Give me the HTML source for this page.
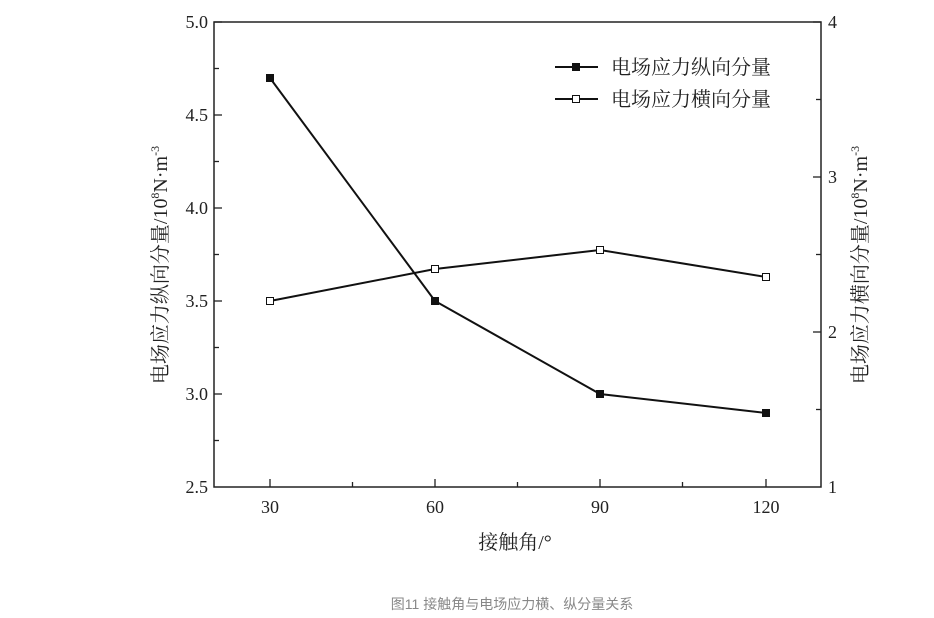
<!DOCTYPE html>
<html><head><meta charset="utf-8"><style>
body{margin:0;background:#fff;}
svg{display:block;font-family:"Liberation Serif","Noto Serif CJK SC",serif;}
</style></head><body>
<svg width="934" height="618" viewBox="0 0 934 618">
<rect x="0" y="0" width="934" height="618" fill="#fff"/>
<rect x="214" y="22" width="607" height="465" fill="none" stroke="#222" stroke-width="1.5"/>
<g stroke="#222" stroke-width="1.3">
<line x1="214" y1="22" x2="222" y2="22"/><line x1="214" y1="68.5" x2="219" y2="68.5"/>
<line x1="214" y1="115" x2="222" y2="115"/><line x1="214" y1="161.5" x2="219" y2="161.5"/>
<line x1="214" y1="208" x2="222" y2="208"/><line x1="214" y1="254.5" x2="219" y2="254.5"/>
<line x1="214" y1="301" x2="222" y2="301"/><line x1="214" y1="347.5" x2="219" y2="347.5"/>
<line x1="214" y1="394" x2="222" y2="394"/><line x1="214" y1="440.5" x2="219" y2="440.5"/>
<line x1="821" y1="22" x2="813" y2="22"/><line x1="821" y1="99.5" x2="816" y2="99.5"/>
<line x1="821" y1="177" x2="813" y2="177"/><line x1="821" y1="254.5" x2="816" y2="254.5"/>
<line x1="821" y1="332" x2="813" y2="332"/><line x1="821" y1="409.5" x2="816" y2="409.5"/>
<line x1="270" y1="487" x2="270" y2="479"/><line x1="352.5" y1="487" x2="352.5" y2="482"/>
<line x1="435" y1="487" x2="435" y2="479"/><line x1="517.5" y1="487" x2="517.5" y2="482"/>
<line x1="600" y1="487" x2="600" y2="479"/><line x1="682.5" y1="487" x2="682.5" y2="482"/>
<line x1="766" y1="487" x2="766" y2="479"/>
</g>
<g font-size="18" fill="#222" text-anchor="end">
<text x="208" y="28">5.0</text><text x="208" y="121">4.5</text><text x="208" y="214">4.0</text>
<text x="208" y="307">3.5</text><text x="208" y="400">3.0</text><text x="208" y="493">2.5</text>
</g>
<g font-size="18" fill="#222">
<text x="828" y="28">4</text><text x="828" y="183">3</text><text x="828" y="338">2</text><text x="828" y="493">1</text>
</g>
<g font-size="18" fill="#222" text-anchor="middle">
<text x="270" y="513">30</text><text x="435" y="513">60</text><text x="600" y="513">90</text><text x="766" y="513">120</text>
<text x="515" y="549" font-size="20">接触角/°</text>
</g>
<text transform="translate(167,265) rotate(-90)" font-size="20" fill="#222" text-anchor="middle">电场应力纵向分量/10<tspan font-size="12" dy="-8">8</tspan><tspan dy="8">N·m</tspan><tspan font-size="12" dy="-8">-3</tspan></text>
<text transform="translate(867,265) rotate(-90)" font-size="20" fill="#222" text-anchor="middle">电场应力横向分量/10<tspan font-size="12" dy="-8">8</tspan><tspan dy="8">N·m</tspan><tspan font-size="12" dy="-8">-3</tspan></text>
<polyline points="270,78 435,301 600,394 766,413" fill="none" stroke="#111" stroke-width="2"/>
<g fill="#111"><rect x="266" y="74" width="8" height="8"/><rect x="431" y="297" width="8" height="8"/><rect x="596" y="390" width="8" height="8"/><rect x="762" y="409" width="8" height="8"/></g>
<polyline points="270,301 435,269 600,250 766,277" fill="none" stroke="#111" stroke-width="2"/>
<g fill="#fff" stroke="#111" stroke-width="1"><rect x="266.5" y="297.5" width="7" height="7"/><rect x="431.5" y="265.5" width="7" height="7"/><rect x="596.5" y="246.5" width="7" height="7"/><rect x="762.5" y="273.5" width="7" height="7"/></g>
<line x1="555" y1="67" x2="598" y2="67" stroke="#111" stroke-width="2"/><rect x="572" y="63" width="8" height="8" fill="#111"/>
<line x1="555" y1="99" x2="598" y2="99" stroke="#111" stroke-width="2"/><rect x="572.5" y="95.5" width="7" height="7" fill="#fff" stroke="#111"/>
<g font-size="20" fill="#222"><text x="611" y="74">电场应力纵向分量</text><text x="611" y="106">电场应力横向分量</text></g>
<text x="512" y="609" font-family="'Liberation Sans','Noto Sans CJK SC',sans-serif" font-size="14" fill="#888" text-anchor="middle">图11 接触角与电场应力横、纵分量关系</text>
</svg>
</body></html>
